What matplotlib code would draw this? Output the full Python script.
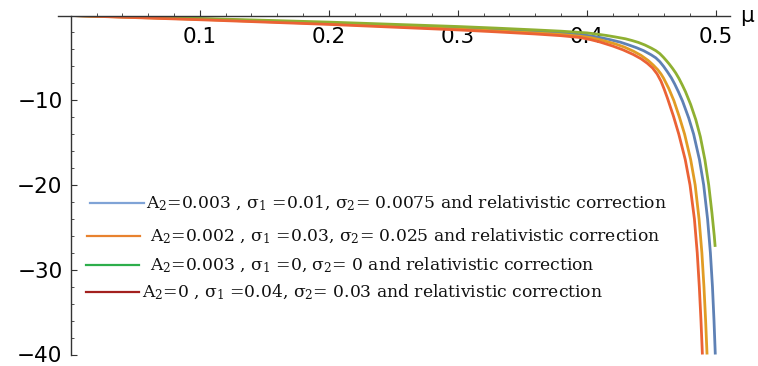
import matplotlib
matplotlib.use("Agg")
import matplotlib.pyplot as plt
from matplotlib.lines import Line2D
from matplotlib.ticker import FixedLocator

# ---------------- data ----------------
mu_blue = [0.0, 0.1, 0.2, 0.3, 0.33, 0.36, 0.38, 0.398, 0.405, 0.411, 0.418, 0.426,
           0.432, 0.4385, 0.444, 0.450, 0.4535, 0.4566, 0.4595, 0.4625, 0.4655,
           0.4680, 0.4710, 0.4742, 0.4790, 0.4828, 0.4873, 0.4906, 0.4936, 0.4958,
           0.4974, 0.4986, 0.4996]
y_blue = [0.0, -0.4, -0.9, -1.45, -1.66, -1.88, -2.06, -2.3, -2.45, -2.62, -2.85, -3.15,
          -3.45, -3.8, -4.15, -4.65, -5.0, -5.45, -6.0, -6.65, -7.35,
          -8.05, -9.0, -10.1, -12.1, -14.0, -17.0, -20.0, -24.0, -28.0,
          -32.0, -36.0, -40.0]

mu_orange = [0.0, 0.1, 0.2, 0.3, 0.33, 0.36, 0.38, 0.395, 0.403, 0.41, 0.416, 0.422,
             0.429, 0.436, 0.442, 0.4475, 0.4515, 0.455, 0.4575, 0.4595, 0.4635,
             0.4675, 0.4718, 0.4758, 0.4805, 0.4840, 0.4870, 0.4892, 0.4908, 0.4921,
             0.4932]
y_orange = [0.0, -0.45, -0.98, -1.6, -1.82, -2.06, -2.24, -2.45, -2.62, -2.85, -3.1, -3.35,
            -3.72, -4.2, -4.7, -5.3, -5.85, -6.4, -6.9, -7.4, -8.6,
            -10.05, -12.0, -14.0, -17.0, -20.0, -24.0, -28.0, -32.0, -36.0,
            -40.0]

mu_green = [0.0, 0.1, 0.2, 0.3, 0.33, 0.36, 0.38, 0.4, 0.408, 0.415, 0.422, 0.43,
            0.435, 0.44, 0.445, 0.45, 0.4535, 0.4566, 0.4595, 0.4618, 0.464, 0.4665,
            0.469, 0.4715, 0.474, 0.4765, 0.4805, 0.4845, 0.4880, 0.4915, 0.4945,
            0.4970, 0.4988, 0.4995]
y_green = [0.0, -0.35, -0.78, -1.3, -1.49, -1.7, -1.85, -2.05, -2.2, -2.35, -2.53, -2.75,
           -2.95, -3.18, -3.48, -3.85, -4.15, -4.5, -4.95, -5.35, -5.75, -6.25,
           -6.8, -7.45, -8.2, -9.0, -10.5, -12.3, -14.3, -17.0, -20.0,
           -23.3, -26.0, -27.3]

mu_red = [0.0, 0.1, 0.2, 0.3, 0.33, 0.36, 0.38, 0.395, 0.403, 0.410, 0.420, 0.428,
          0.436, 0.442, 0.447, 0.451, 0.4545, 0.4575, 0.4600, 0.4625, 0.4672,
          0.4713, 0.4763, 0.4800, 0.4834, 0.4856, 0.4872, 0.4885, 0.4896]
y_red = [0.0, -0.5, -1.05, -1.7, -1.93, -2.18, -2.38, -2.6, -2.85, -3.12, -3.6, -4.05,
         -4.6, -5.1, -5.65, -6.2, -6.9, -7.75, -8.7, -9.75, -11.9,
         -14.0, -17.0, -20.0, -24.0, -28.0, -32.0, -36.0, -40.0]

x_ticks = [0.1, 0.2, 0.3, 0.4, 0.5]
x_tick_labels = ["0.1", "0.2", "0.3", "0.4", "0.5"]
y_ticks = [-10, -20, -30, -40]
y_tick_labels = ["\u221210", "\u221220", "\u221230", "\u221240"]

legend_labels = [
    "A$_2$=0.003 , \u03c3$_1$ =0.01, \u03c3$_2$= 0.0075 and relativistic correction",
    "A$_2$=0.002 , \u03c3$_1$ =0.03, \u03c3$_2$= 0.025 and relativistic correction",
    "A$_2$=0.003 , \u03c3$_1$ =0, \u03c3$_2$= 0 and relativistic correction",
    "A$_2$=0 , \u03c3$_1$ =0.04, \u03c3$_2$= 0.03 and relativistic correction",
]

# ---------------- styling ----------------
W, H = 758, 366
plt.rcParams["mathtext.fontset"] = "dejavuserif"

fig = plt.figure(figsize=(W / 100, H / 100), dpi=100)
ax = fig.add_axes([58 / W, (H - 354.5) / H, (730 - 58) / W, (354.5 - 15.5) / H])
ax.set_xlim(-0.01, 0.511)
ax.set_ylim(-40.0, 0.0)

c_blue, c_orange, c_green, c_red = "#5E81B5", "#E19C24", "#8FB032", "#EB6235"
lw = 2.0
ax.plot(mu_blue, y_blue, color=c_blue, lw=lw, solid_capstyle="butt")
ax.plot(mu_orange, y_orange, color=c_orange, lw=lw, solid_capstyle="butt")
ax.plot(mu_green, y_green, color=c_green, lw=lw, solid_capstyle="butt")
ax.plot(mu_red, y_red, color=c_red, lw=lw, solid_capstyle="butt")

axis_col = "#333333"
for s in ["top", "right"]:
    ax.spines[s].set_visible(False)
ax.spines["bottom"].set_position(("data", 0))
ax.spines["left"].set_position(("data", 0))
ax.spines["left"].set_bounds(-40, 0)
for s in ["bottom", "left"]:
    ax.spines[s].set_color(axis_col)
    ax.spines[s].set_linewidth(1.0)

ax.xaxis.set_major_locator(FixedLocator(x_ticks))
ax.set_xticklabels(x_tick_labels)
ax.xaxis.set_minor_locator(FixedLocator([0.02 * i for i in range(1, 26) if i % 5 != 0]))
ax.yaxis.set_major_locator(FixedLocator(y_ticks))
ax.set_yticklabels(y_tick_labels)
ax.yaxis.set_minor_locator(FixedLocator([-2 * i for i in range(1, 20) if i % 5 != 0]))

ax.tick_params(axis="both", which="major", direction="in", length=4, width=0.8,
               color=axis_col, labelsize=15.5, labelcolor="black")
ax.tick_params(axis="both", which="minor", direction="in", length=2.3, width=0.6,
               color=axis_col)
ax.tick_params(axis="x", which="major", pad=8.5)
ax.tick_params(axis="y", which="major", pad=6)
for lab in ax.get_xticklabels() + ax.get_yticklabels():
    lab.set_fontfamily("DejaVu Sans")

fig.text(747 / W, 1 - 22 / H, "\u03bc", fontsize=15.5, family="DejaVu Sans",
         ha="center", va="baseline")

# ---------------- legend (drawn by hand like the original) ----------------
leg_cols = ["#7FA3D6", "#E8822F", "#2DAE4B", "#A3201E"]
line_x = [(90, 144), (87, 140), (86, 139), (86, 139)]
line_y = [203, 236, 265, 292]
text_x = [146, 150, 150, 142]
text_base = [208, 241, 270, 297]
for i in range(4):
    x0, x1 = line_x[i]
    fig.add_artist(Line2D([x0 / W, x1 / W], [1 - line_y[i] / H, 1 - line_y[i] / H],
                          transform=fig.transFigure, color=leg_cols[i], lw=1.6))
    fig.text(text_x[i] / W, 1 - text_base[i] / H, legend_labels[i],
             fontsize=12.3, family="DejaVu Serif", color="#111111",
             ha="left", va="baseline")

fig.savefig("out.png", dpi=100)
